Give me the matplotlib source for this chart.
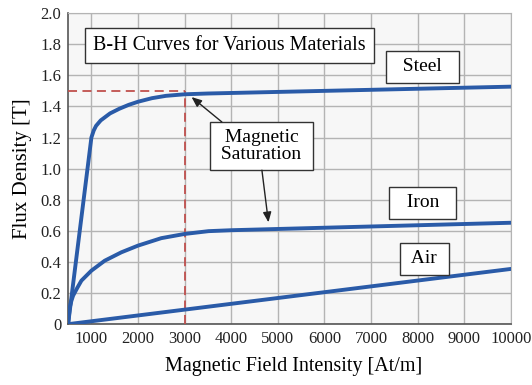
import matplotlib
matplotlib.use("Agg")
import matplotlib.pyplot as plt
import numpy as np
from matplotlib.ticker import FuncFormatter

plt.rcParams['font.family'] = ['Liberation Serif', 'DejaVu Serif']

# Data
steel_h = [500, 1000, 1050, 1100, 1200, 1400, 1600, 1800, 2000, 2300, 2600, 3000, 3500, 10000]
steel_b = [0.0, 1.2, 1.245, 1.275, 1.31, 1.355, 1.385, 1.41, 1.43, 1.453, 1.468, 1.478, 1.483, 1.527]
iron_h = [500, 536, 571, 607, 700, 786, 1000, 1286, 1643, 2000, 2500, 3000, 3514, 4000, 10000]
iron_b = [0.0, 0.107, 0.15, 0.183, 0.235, 0.28, 0.344, 0.408, 0.462, 0.505, 0.553, 0.58, 0.598, 0.604, 0.652]
air_h = [500, 10000]
air_b = [0.0, 0.355]
sat_h = 3000
sat_b = 1.5
x_ticks = [1000, 2000, 3000, 4000, 5000, 6000, 7000, 8000, 9000, 10000]
y_ticks = [0, 0.2, 0.4, 0.6, 0.8, 1.0, 1.2, 1.4, 1.6, 1.8, 2.0]

fig = plt.figure(figsize=(5.32, 3.85), dpi=100)
ax = fig.add_axes([0.128, 0.158, 0.832, 0.808])
ax.set_facecolor('#f7f7f7')

blue = '#2a5ba8'
for h, b in [(steel_h, steel_b), (iron_h, iron_b), (air_h, air_b)]:
    ax.plot(h, b, color=blue, lw=2.8, solid_capstyle='round', solid_joinstyle='round', zorder=4)

dash_col = '#c0504d'
ax.plot([500, sat_h], [sat_b, sat_b], color=dash_col, lw=1.3, ls=(0, (5, 3)), zorder=3)
ax.plot([sat_h, sat_h], [0, sat_b], color=dash_col, lw=1.3, ls=(0, (5, 3)), zorder=3)

ax.set_xlim(500, 10000)
ax.set_ylim(0, 2.0)
ax.set_xticks(x_ticks)
ax.set_yticks(y_ticks)
ax.yaxis.set_major_formatter(FuncFormatter(lambda v, p: '0' if v == 0 else f'{v:.1f}'))
ax.grid(True, color='#b4b4b4', lw=1.0, zorder=0)
ax.set_axisbelow(True)
ax.tick_params(length=0, labelsize=12, pad=5, colors='#222222')
for s in ['top', 'right']:
    ax.spines[s].set_color('#b4b4b4')
for s in ['left', 'bottom']:
    ax.spines[s].set_color('#555555')
    ax.spines[s].set_linewidth(1.2)

ax.set_xlabel('Magnetic Field Intensity [At/m]', fontsize=14.5)
ax.xaxis.set_label_coords(0.51, -0.105)
ax.set_ylabel('Flux Density [T]', fontsize=15, labelpad=6)

box = dict(boxstyle='square,pad=0.35', fc='white', ec='#333333', lw=1.0)
ax.text(3964, 1.79, 'B-H Curves for Various Materials', fontsize=14.5, ha='center', va='center',
        bbox=dict(box, boxstyle='square,pad=0.4'), zorder=6)
ax.text(8110, 1.655, '  Steel  ', fontsize=14, ha='center', va='center', bbox=dict(box, boxstyle='square,pad=0.38'), zorder=6)
ax.text(8110, 0.78, '  Iron  ', fontsize=14, ha='center', va='center', bbox=dict(box, boxstyle='square,pad=0.38'), zorder=6)
ax.text(8150, 0.42, ' Air ', fontsize=14, ha='center', va='center', bbox=dict(box, boxstyle='square,pad=0.38'), zorder=6)
ax.text(4650, 1.145, ' Magnetic \n Saturation ', fontsize=14, ha='center', va='center', multialignment='center',
        linespacing=1.0, bbox=dict(box, boxstyle='square,pad=0.35'), zorder=6)

arrow = dict(arrowstyle='-|>,head_length=0.6,head_width=0.25', color='#222222', lw=1.0, shrinkA=0, shrinkB=0)
ax.annotate('', xy=(3150, 1.46), xytext=(3800, 1.30), arrowprops=arrow, zorder=7)
ax.annotate('', xy=(4800, 0.655), xytext=(4660, 0.99), arrowprops=arrow, zorder=7)

fig.savefig('out.png', dpi=100)
